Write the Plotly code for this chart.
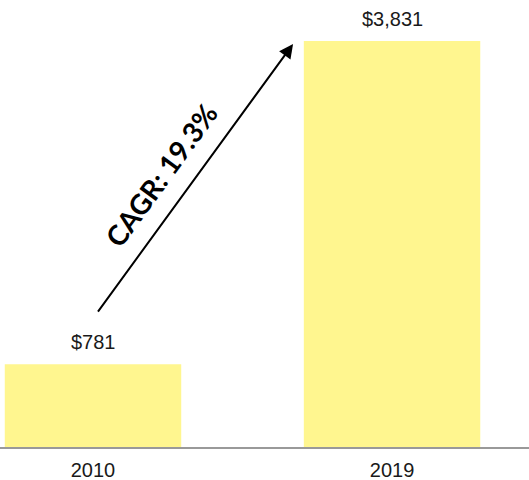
import plotly.graph_objects as go

# Revenue in the two reported years
years = ["2010", "2019"]
revenue = [781, 3831]
n_years = int(years[1]) - int(years[0])
cagr = (revenue[1] / revenue[0]) ** (1 / n_years) - 1

x_pos = [0, 1]
bar_color = "#FFF68F"
label_font = dict(family="Liberation Sans, Arial, sans-serif", size=20, color="#1a1a1a")

fig = go.Figure()
fig.add_trace(go.Bar(
    x=x_pos, y=revenue, width=0.59,
    marker=dict(color=bar_color, line=dict(width=0)),
    hoverinfo="skip",
))

# Value labels above bars
for xi, v in zip(x_pos, revenue):
    fig.add_annotation(x=xi, y=v, text=f"${v:,}", showarrow=False,
                       yanchor="bottom", yshift=9, font=label_font)

# Growth arrow between the bars
fig.add_annotation(x=0.669, y=3803, ax=0.013, ay=1264,
                   xref="x", yref="y", axref="x", ayref="y",
                   showarrow=True, arrowhead=2, arrowsize=1.4, arrowwidth=2,
                   arrowcolor="black", text="")

fig.add_annotation(x=0.227, y=2567, xref="x", yref="y",
                   text=f"<b>CAGR: {cagr*100:.1f}%</b>", showarrow=False,
                   textangle=-54,
                   font=dict(family="Lato, sans-serif", size=28, color="black"))

fig.update_layout(
    width=529, height=480,
    margin=dict(l=0, r=0, t=0, b=33),
    plot_bgcolor="white", paper_bgcolor="white",
    showlegend=False,
    xaxis=dict(range=[-0.311, 1.458], tickvals=x_pos, ticktext=years,
               showgrid=False, zeroline=False, showline=True,
               linecolor="#999999", linewidth=2, ticks="",
               ticklabelstandoff=4, automargin=False,
               tickfont=label_font, fixedrange=True),
    yaxis=dict(range=[0, 4218], visible=False, fixedrange=True, automargin=False),
)

fig.write_html("out.html")
